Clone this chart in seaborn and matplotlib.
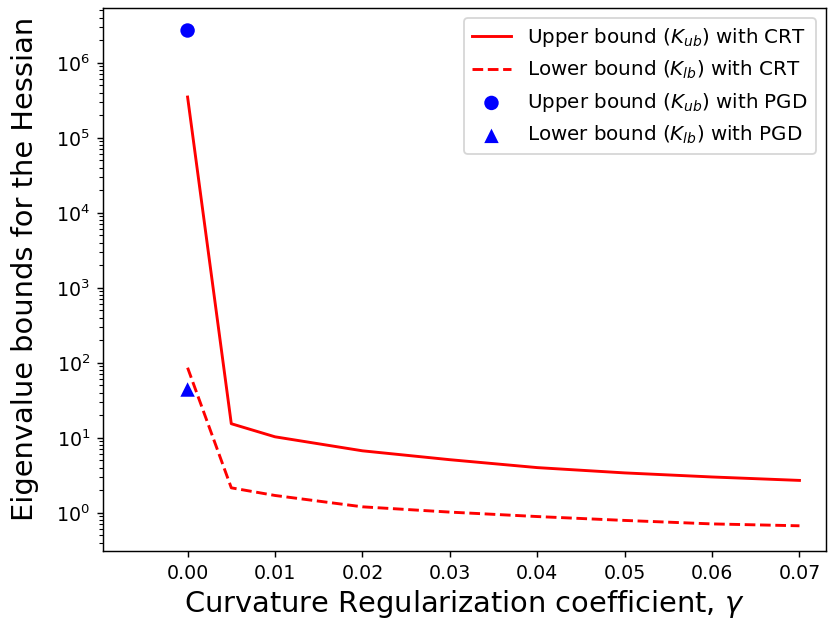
import matplotlib
matplotlib.use('Agg')
from matplotlib import pyplot as plt
import seaborn as sns

# curvature regularization coefficient
gamma = [0.0, 0.005, 0.01, 0.02, 0.03, 0.04, 0.05, 0.06, 0.07]
upper_crt = [3.5e5, 15.4, 10.3, 6.7, 5.1, 4.0, 3.4, 3.0, 2.7]
lower_crt = [86, 2.15, 1.7, 1.2, 1.02, 0.89, 0.79, 0.71, 0.67]

gamma_pgd = [0.0]
upper_pgd = [2.7e6]
lower_pgd = [44]

fig = plt.figure(figsize=(829 / 130, 4.8), dpi=130)
ax = fig.add_axes([0.124, 0.117, 0.872, 0.870])

sns.lineplot(x=gamma, y=upper_crt, color='red', linestyle='-', linewidth=1.6,
             label=r'Upper bound ($K_{ub}$) with CRT', ax=ax)
sns.lineplot(x=gamma, y=lower_crt, color='red', linestyle='--', linewidth=1.6,
             label=r'Lower bound ($K_{lb}$) with CRT', ax=ax)
sns.scatterplot(x=gamma_pgd, y=upper_pgd, color='blue', marker='o', s=64,
                edgecolor='none', label=r'Upper bound ($K_{ub}$) with PGD', ax=ax)
sns.scatterplot(x=gamma_pgd, y=lower_pgd, color='blue', marker='^', s=64,
                edgecolor='none', label=r'Lower bound ($K_{lb}$) with PGD', ax=ax)

ax.set_yscale('log')
ax.set_xlim(-0.0097, 0.073)
ax.set_ylim(10 ** -0.51, 10 ** 6.73)
ax.set_xticks([0.0, 0.01, 0.02, 0.03, 0.04, 0.05, 0.06, 0.07])
ax.set_xticklabels(['0.00', '0.01', '0.02', '0.03', '0.04', '0.05', '0.06', '0.07'])
ax.tick_params(labelsize=10.5)
ax.set_xlabel(r'Curvature Regularization coefficient, $\gamma$', fontsize=16, labelpad=3)
ax.set_ylabel('Eigenvalue bounds for the Hessian', fontsize=16)
ax.yaxis.set_label_coords(-0.088, 0.52)
ax.legend(loc='upper right', fontsize=11)

fig.savefig('out.png', dpi=130)
